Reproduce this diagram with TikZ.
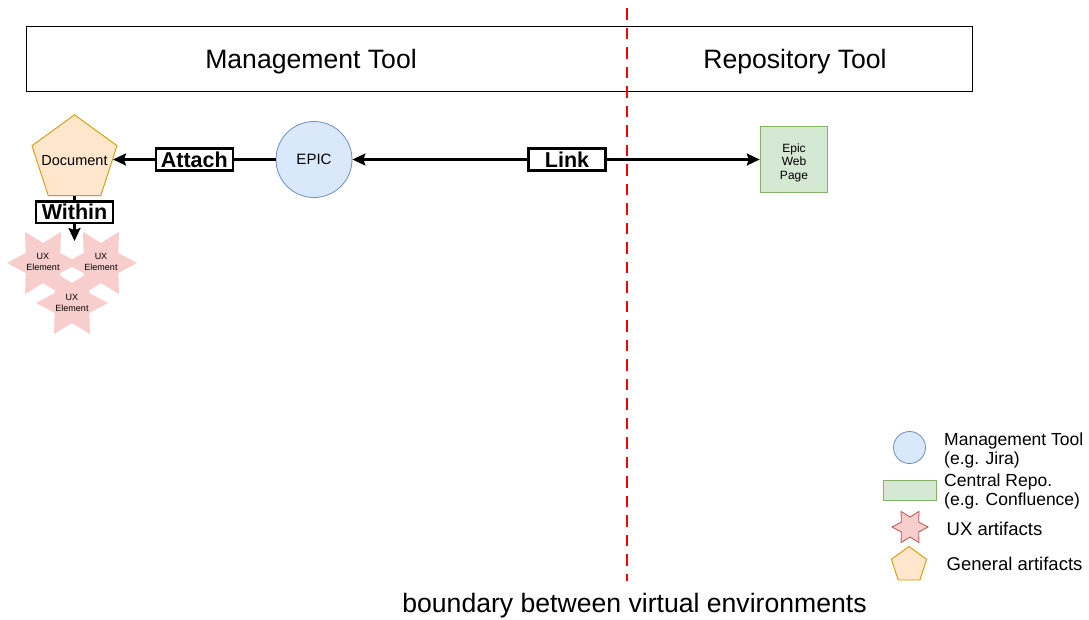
\documentclass[tikz,border=0pt]{standalone}
\usepackage{fontspec}
\setmainfont{Liberation Sans}
\usetikzlibrary{shapes.geometric,arrows.meta}
\definecolor{docfill}{HTML}{FFE6CC}
\definecolor{docdraw}{HTML}{D79B00}
\definecolor{epicfill}{HTML}{DAE8FC}
\definecolor{epicdraw}{HTML}{6C8EBF}
\definecolor{webfill}{HTML}{D5E8D4}
\definecolor{webdraw}{HTML}{82B366}
\definecolor{uxfill}{HTML}{F8CECC}
\definecolor{uxdraw}{HTML}{B85450}
\definecolor{bred}{HTML}{FF0000}
\tikzset{
  pentashape/.style={regular polygon, regular polygon sides=5, inner sep=0pt, fill=docfill, draw=docdraw, line width=0.9pt},
  uxstar/.style={star, star points=6, star point ratio=1.8, shape border rotate=90, inner sep=0pt, fill=uxfill},
  uxtext/.style={align=center, inner sep=0pt, font=\fontsize{9}{10.5}\selectfont},
  epicshape/.style={circle, inner sep=0pt, fill=epicfill, draw=epicdraw, line width=0.8pt},
  webshape/.style={rectangle, inner sep=0pt, fill=webfill, draw=webdraw, line width=1.5pt},
  lbl/.style={draw=black, line width=2.6pt, fill=white, minimum width=77pt, minimum height=21.5pt, inner sep=0pt, font=\fontsize{21.5}{22}\selectfont\bfseries},
  conn/.style={line width=2.3pt, -{Stealth[length=13pt 0 0,width=12pt 0 0,inset=2pt]}},
  conn2/.style={line width=2.3pt, {Stealth[length=13pt 0 0,width=12pt 0 0,inset=2pt]}-{Stealth[length=13pt 0 0,width=12pt 0 0,inset=2pt]}},
  legtext/.style={anchor=west, align=left, inner sep=0pt, font=\fontsize{17.5}{19}\selectfont},
  boundary/.style={draw=bred, line width=2.6pt, dash pattern=on 11.5pt off 8pt},
}
\begin{document}
\begin{tikzpicture}[x=1pt,y=-1pt]
\useasboundingbox (0,0) rectangle (1089,619);
% header
\node[draw=black, line width=0.8pt, minimum width=946pt, minimum height=65pt, inner sep=0pt] (topbox) at (499,58.5) {};
\node[anchor=base, inner sep=0pt, font=\fontsize{26.6}{28}\selectfont] (mgmt) at (311,68) {Management Tool};
\node[anchor=base, inner sep=0pt, font=\fontsize{26.6}{28}\selectfont] (repo) at (795,68) {Repository Tool};
% boundary
\coordinate (btop) at (627,8);
\coordinate (bbot) at (627,581);
\draw[boundary] (btop) -- (bbot);
\node[anchor=base, inner sep=0pt, font=\fontsize{26.6}{28}\selectfont] (bnd) at (634.5,612) {boundary between virtual environments};
% stars
\node[uxstar, minimum size=72pt] (ux1) at (43,263) {};
\node[uxstar, minimum size=72pt] (ux2) at (101,263) {};
\node[uxstar, minimum size=72pt] (ux3) at (72,303) {};
\node[uxtext] (ux1t) at (43,262) {UX\\Element};
\node[uxtext] (ux2t) at (101,262) {UX\\Element};
\node[uxtext] (ux3t) at (72,303) {UX\\Element};
% document
\node[pentashape, minimum size=89.4pt] (doc) at (74.5,159.5) {};
\node[inner sep=0pt, font=\fontsize{14.5}{16}\selectfont] (doct) at (74.5,161) {Document};
% epic
\node[epicshape, minimum size=76pt, font=\fontsize{15}{17}\selectfont] (epic) at (314,159.5) {EPIC};
% web page
\node[webshape, minimum width=67pt, minimum height=66pt] (web) at (794,159.5) {};
\node[align=center, inner sep=0pt, font=\fontsize{12}{13.5}\selectfont] (webt) at (794,162.5) {Epic\\Web\\Page};
% connectors
\draw[conn] (epic.west) -- (doc) node[lbl, pos=0.5] (attach) {Attach};
\draw[conn2] (epic.east) -- (web.west) node[lbl, pos=0.527] (link) {Link};
\coordinate (wend) at (74.5,241);
\draw[conn] (doc.south) -- (wend) node[lbl, pos=0.36] (within) {Within};
% legend
\node[epicshape, minimum size=32pt] (legc) at (909.5,447.5) {};
\node[webshape, line width=1pt, minimum width=53pt, minimum height=20pt] (legr) at (910,490.5) {};
\node[star, star points=6, star point ratio=1.8, shape border rotate=90, inner sep=0pt, fill=uxfill, draw=uxdraw, line width=0.8pt, minimum size=36pt] (legs) at (910,527) {};
\node[pentashape, minimum size=37pt] (legp) at (909,565) {};
\node[legtext] (legct) at (944,450.5) {Management Tool\\(e.g. Jira)};
\node[legtext] (legrt) at (944,491) {Central Repo.\\(e.g. Confluence)};
\node[legtext, font=\fontsize{18.5}{19}\selectfont] (legst) at (946.5,529) {UX artifacts};
\node[legtext, font=\fontsize{18.5}{19}\selectfont] (legpt) at (946.5,564) {General artifacts};
\end{tikzpicture}
\end{document}
